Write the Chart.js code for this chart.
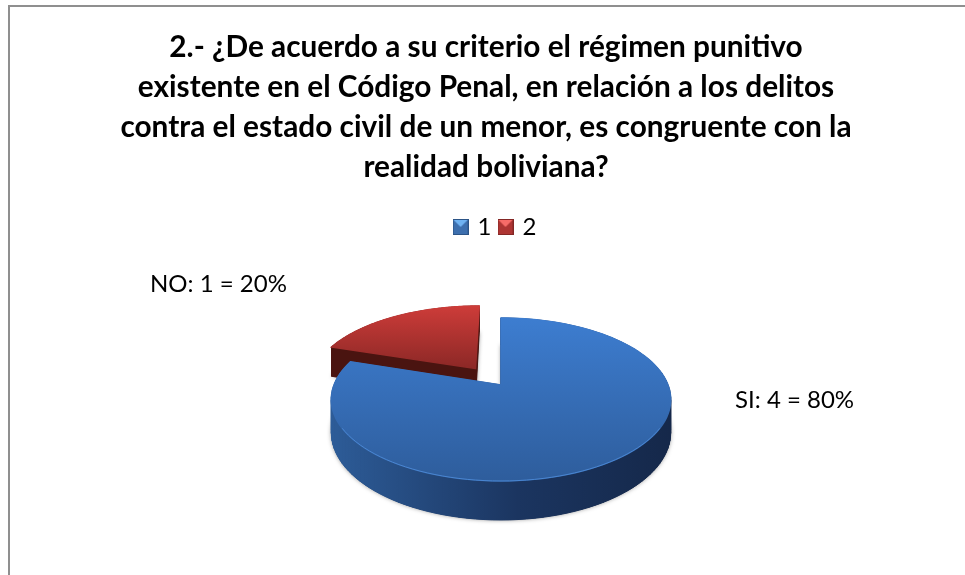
<!DOCTYPE html>
<html lang="es">
<head>
<meta charset="utf-8">
<title>Régimen punitivo</title>
<script src="https://cdn.jsdelivr.net/npm/chart.js@4/dist/chart.umd.min.js"></script>
<style>
  html, body { margin: 0; padding: 0; background: #fff; overflow: hidden; }
  #frame { position: absolute; left: 8px; top: 5px; width: 965px; height: 580px; box-sizing: border-box;
           border-top: 2px solid #8f8f8f; border-left: 2px solid #8f8f8f; pointer-events: none; }
  #chart { position: absolute; left: 8px; top: 5px; }
</style>
</head>
<body>
<canvas id="chart" width="957" height="570"></canvas>
<div id="frame"></div>
<script>
const titleLines = [
  '2.- ¿De acuerdo a su criterio el régimen punitivo',
  'existente en el Código Penal, en relación a los delitos',
  'contra el estado civil de un menor, es congruente con la',
  'realidad boliviana?'
];
const categories = ['1', '2'];
const answers = ['SI', 'NO'];
const values = [4, 1];

const FONT = 'Lato, Carlito, sans-serif';

// colours per slice: top face gradient, wall gradient, cut face
const topColors = [['#3d7dd0', '#2e5d9c'], ['#cd3c39', '#8c2826']];
const wallColors = [['#2d5c98', '#1b3560', '#15284a'], ['#4a1410', '#4a1410', '#4a1410']];
const rimColors = ['#4a86d2', '#b23431'];
const iconColors = [['#6fb2f2', '#3d6fae', '#2c5487'], ['#f76c68', '#ae3533', '#842725']];

// perspective of the tilted pie, relative to the outer radius
const SQUASH = 0.4725;
const TILT = 0.178;
const DEPTH = 0.192;

function makeIcon(colors) {
  const c = document.createElement('canvas');
  c.width = 16;
  c.height = 16;
  const g = c.getContext('2d');
  g.fillStyle = colors[1];
  g.fillRect(0, 0, 16, 16);
  g.fillStyle = colors[0];
  g.beginPath();
  g.moveTo(1, 1);
  g.lineTo(15, 1);
  g.lineTo(8, 8);
  g.closePath();
  g.fill();
  g.strokeStyle = colors[2];
  g.strokeRect(0.5, 0.5, 15, 15);
  return c;
}

const icons = iconColors.map(makeIcon);

// circle-plane point (px from arc centre) -> screen point, dropped by the wall height if asked
function project(arc, px, py, drop) {
  const r = arc.outerRadius;
  const u = px / r;
  const v = -py / r;
  const w = 1 + TILT * v;
  return {
    x: arc.x + r * u / w,
    y: arc.y - r * SQUASH * v / w + (drop ? r * DEPTH / w : 0)
  };
}

function outline(arc, drop) {
  const off = arc.options.offset || 0;
  const mid = (arc.startAngle + arc.endAngle) / 2;
  const ox = Math.cos(mid) * off;
  const oy = Math.sin(mid) * off;
  const pts = [project(arc, ox, oy, drop)];
  const steps = 120;
  for (let i = 0; i <= steps; i++) {
    const a = arc.startAngle + (arc.endAngle - arc.startAngle) * i / steps;
    pts.push(project(arc, ox + Math.cos(a) * arc.outerRadius, oy + Math.sin(a) * arc.outerRadius, drop));
  }
  return pts;
}

function tracePts(ctx, pts) {
  ctx.beginPath();
  pts.forEach((p, i) => (i ? ctx.lineTo(p.x, p.y) : ctx.moveTo(p.x, p.y)));
  ctx.closePath();
}

function drawSlice(ctx, arc, i) {
  const top = outline(arc, false);
  const bottom = outline(arc, true);
  const xs = top.map(p => p.x);
  const ys = top.map(p => p.y);
  const minX = Math.min(...xs);
  const maxX = Math.max(...xs);

  // soft shadow under the body
  ctx.save();
  ctx.shadowColor = 'rgba(0,0,0,0.45)';
  ctx.shadowBlur = 4;
  ctx.fillStyle = wallColors[i][2];
  tracePts(ctx, bottom);
  ctx.fill();
  ctx.restore();

  // walls
  const wall = ctx.createLinearGradient(minX, 0, maxX, 0);
  wall.addColorStop(0, wallColors[i][0]);
  wall.addColorStop(0.55, wallColors[i][1]);
  wall.addColorStop(1, wallColors[i][2]);
  ctx.fillStyle = wall;
  ctx.strokeStyle = wall;
  ctx.lineWidth = 1;
  for (let k = 0; k < top.length; k++) {
    const n = (k + 1) % top.length;
    ctx.beginPath();
    ctx.moveTo(top[k].x, top[k].y);
    ctx.lineTo(top[n].x, top[n].y);
    ctx.lineTo(bottom[n].x, bottom[n].y);
    ctx.lineTo(bottom[k].x, bottom[k].y);
    ctx.closePath();
    ctx.fill();
    ctx.stroke();
  }

  // top face, stroked with itself so the walls do not bleed through its edge
  const face = ctx.createLinearGradient(0, Math.min(...ys), 0, Math.max(...ys));
  face.addColorStop(0, topColors[i][0]);
  face.addColorStop(1, topColors[i][1]);
  ctx.fillStyle = face;
  ctx.strokeStyle = face;
  ctx.lineWidth = 1.5;
  tracePts(ctx, top);
  ctx.fill();
  ctx.stroke();

  // light rim along the front edge
  ctx.strokeStyle = rimColors[i];
  ctx.lineWidth = 1;
  ctx.beginPath();
  let started = false;
  top.slice(1).forEach(p => {
    if (p.y > arc.y + 40) {
      if (started) ctx.lineTo(p.x, p.y); else ctx.moveTo(p.x, p.y);
      started = true;
    }
  });
  ctx.stroke();
}

const pie3d = {
  id: 'pie3d',
  beforeDatasetDraw(chart, args) {
    const ctx = chart.ctx;
    const arcs = args.meta.data;
    ctx.save();
    // the slice at the back goes first
    for (let i = arcs.length - 1; i >= 0; i--) drawSlice(ctx, arcs[i], i);
    ctx.restore();
    return false;
  }
};

const sliceLabels = {
  id: 'sliceLabels',
  afterDraw(chart, args, opts) {
    const ctx = chart.ctx;
    const arcs = chart.getDatasetMeta(0).data;
    const total = values.reduce((a, b) => a + b, 0);
    ctx.save();
    ctx.font = opts.font;
    ctx.fillStyle = '#000';
    ctx.textBaseline = 'middle';
    ctx.textAlign = 'left';
    values.forEach((v, i) => {
      const pct = Math.round(v / total * 100);
      const off = opts.offsets[i];
      ctx.fillText(answers[i] + ': ' + v + ' = ' + pct + '%', arcs[0].x + off[0], arcs[0].y + off[1]);
    });
    ctx.restore();
  }
};

// title, legend and pie are not on one centre line in the original
const boxNudge = {
  id: 'boxNudge',
  afterLayout(chart, args, opts) {
    chart.titleBlock.left += opts.title;
    chart.titleBlock.right += opts.title;
    chart.legend.left += opts.legend;
    chart.legend.right += opts.legend;
  }
};

new Chart(document.getElementById('chart'), {
  type: 'pie',
  data: {
    labels: categories,
    datasets: [{
      data: values,
      radius: 167,
      offset: [0, 45],
      backgroundColor: topColors.map(c => c[0])
    }]
  },
  plugins: [pie3d, sliceLabels, boxNudge],
  options: {
    responsive: false,
    animation: false,
    layout: { padding: { left: 29, right: 0, top: 0, bottom: 54 } },
    plugins: {
      title: {
        display: true,
        text: titleLines,
        color: '#000',
        font: { family: FONT, size: 29.8, weight: 'bold', lineHeight: 1.342 },
        padding: { top: 22, bottom: 19 }
      },
      legend: {
        position: 'top',
        labels: {
          color: '#000',
          font: { family: FONT, size: 24 },
          usePointStyle: true,
          pointStyleWidth: 10,
          padding: 9,
          generateLabels: chart => categories.map((c, i) => ({
            text: c,
            fontColor: '#000',
            pointStyle: icons[i],
            lineWidth: 0,
            index: i
          }))
        }
      },
      tooltip: { enabled: false },
      sliceLabels: { font: '24px ' + FONT, offsets: [[234, 15], [-351, -101]] },
      boxNudge: { title: -15, legend: -5 }
    }
  }
});
</script>
</body>
</html>
